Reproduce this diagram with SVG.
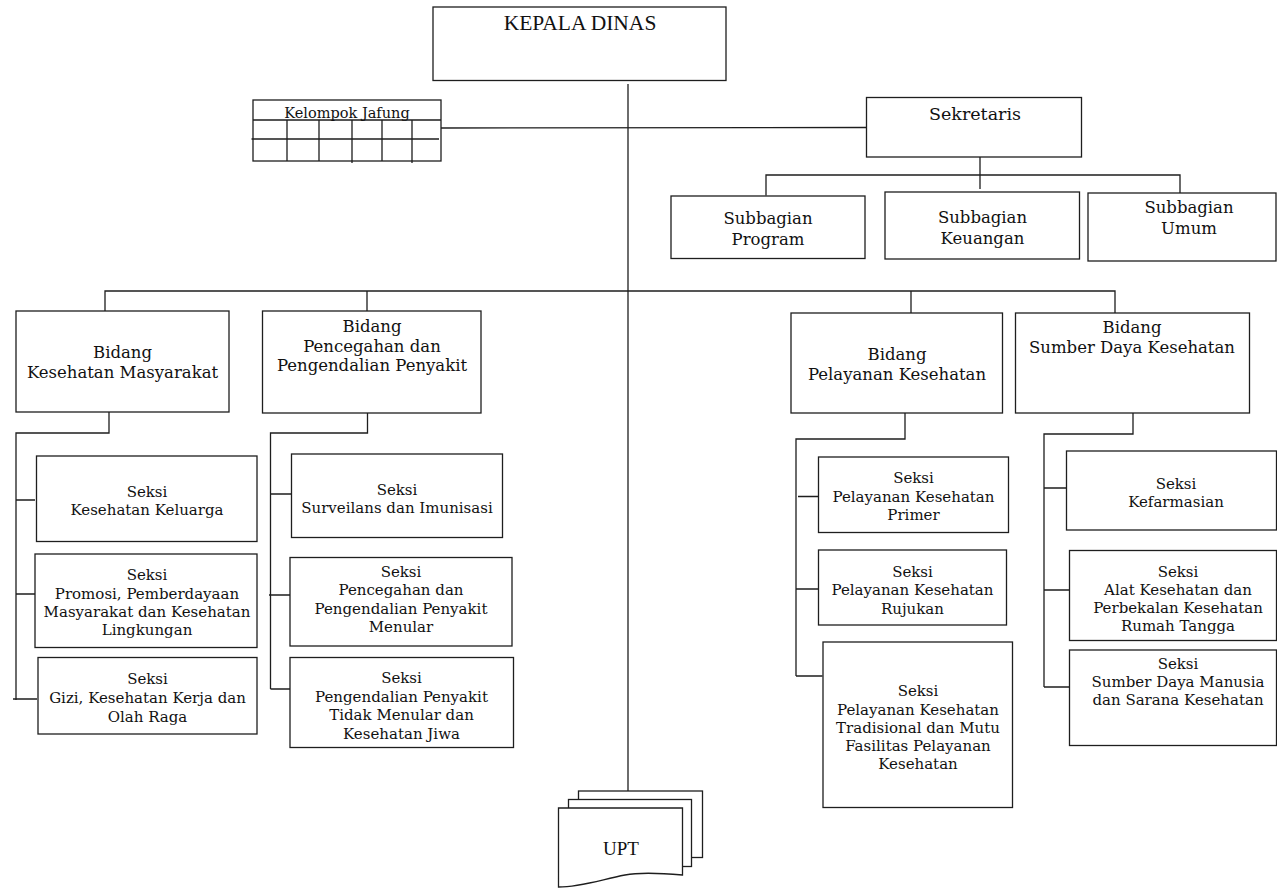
<svg xmlns="http://www.w3.org/2000/svg" width="1277" height="888" viewBox="0 0 1277 888">
<style>
.box{fill:#fff;stroke:#1e1e1e;stroke-width:1.3}
.ln{fill:none;stroke:#1e1e1e;stroke-width:1.3}
.t{font-family:"DejaVu Serif",serif;font-size:15px;text-anchor:middle;fill:#111}
.b{font-size:16.5px}
.s{font-size:16.5px}
.tr{font-family:"Liberation Serif","Times New Roman",serif;text-anchor:middle;fill:#111}
</style>
<rect width="1277" height="888" fill="#fff"/>
<g id="connectors">
<path class="ln" d="M628,84 V791"/>
<path class="ln" d="M441,128 L866,127.5"/>
<path class="ln" d="M980,157 V189 M766,195.5 V175 H1180 V193"/>
<path class="ln" d="M105,311 V291 H1115 V313 M367,291 V311 M911,291 V313"/>
<path class="ln" d="M109,412 V433 H16 V700 M16,500 H35 M16,594 H36 M13,699 H37"/>
<path class="ln" d="M367.5,413 V433 H270.5 V689 M270.5,494 H291 M269,595 H290 M270.5,689 H290"/>
<path class="ln" d="M905,413 V439 H796 V676 M798,496.5 H818 M796,589 H818 M796,676 H822.5"/>
<path class="ln" d="M1133,413 V434 H1044 V687 M1044,488 H1066 M1044,590 H1069 M1044,687 H1069"/>
</g>
<g id="kepala-dinas">
<rect class="box" x="433" y="7" width="293" height="73.5"/>
<text class="tr" x="580" y="30" style="font-size:21.5px">KEPALA DINAS</text>
</g>
<g id="kelompok-jafung">
<rect class="box" x="253" y="100" width="188" height="61"/>
<path class="ln" d="M253,120 H441 M251.5,139 H439 M287,120 V161 M319,120 V161 M352,120 V163 M382,120 V161 M412,120 V163"/>
<text class="t" x="347" y="117.5" style="font-size:14.5px">Kelompok Jafung</text>
</g>
<g id="sekretaris">
<rect class="box" x="866.5" y="97.5" width="215" height="59.5"/>
<text class="t" x="975" y="119.5" style="font-size:17.5px">Sekretaris</text>
</g>
<g id="subbagian-program">
<rect class="box" x="671" y="196" width="194" height="62.5"/>
<text class="t s" x="768" y="223.5">Subbagian</text>
<text class="t s" x="768" y="244.5">Program</text>
</g>
<g id="subbagian-keuangan">
<rect class="box" x="885" y="192" width="194.5" height="67"/>
<text class="t s" x="982.5" y="223">Subbagian</text>
<text class="t s" x="982.5" y="243.5">Keuangan</text>
</g>
<g id="subbagian-umum">
<rect class="box" x="1088" y="193" width="188" height="68"/>
<text class="t s" x="1189" y="213">Subbagian</text>
<text class="t s" x="1189" y="233.5">Umum</text>
</g>
<g id="bidang-kesmas">
<rect class="box" x="16" y="311" width="213" height="101"/>
<text class="t b" x="122.5" y="358">Bidang</text>
<text class="t b" x="122.5" y="378">Kesehatan Masyarakat</text>
</g>
<g id="bidang-p2p">
<rect class="box" x="262.5" y="311" width="218.5" height="102"/>
<text class="t b" x="372" y="332">Bidang</text>
<text class="t b" x="372" y="351.5">Pencegahan dan</text>
<text class="t b" x="372" y="371">Pengendalian Penyakit</text>
</g>
<g id="bidang-yankes">
<rect class="box" x="791" y="313" width="211.5" height="100"/>
<text class="t b" x="897" y="360">Bidang</text>
<text class="t b" x="897" y="380">Pelayanan Kesehatan</text>
</g>
<g id="bidang-sdk">
<rect class="box" x="1015.5" y="313" width="234" height="100"/>
<text class="t b" x="1132" y="332.5">Bidang</text>
<text class="t b" x="1132" y="352.5">Sumber Daya Kesehatan</text>
</g>
<g id="seksi-kesga">
<rect class="box" x="36.5" y="456" width="220.5" height="85.5"/>
<text class="t" x="147" y="497">Seksi</text>
<text class="t" x="147" y="515">Kesehatan Keluarga</text>
</g>
<g id="seksi-promkes">
<rect class="box" x="35" y="554" width="222" height="93.5"/>
<text class="t" x="147" y="580">Seksi</text>
<text class="t" x="147" y="598.5">Promosi, Pemberdayaan</text>
<text class="t" x="147" y="617">Masyarakat dan Kesehatan</text>
<text class="t" x="147" y="635">Lingkungan</text>
</g>
<g id="seksi-gizi">
<rect class="box" x="38" y="657.5" width="219" height="76.5"/>
<text class="t" x="147.5" y="684">Seksi</text>
<text class="t" x="147.5" y="703">Gizi, Kesehatan Kerja dan</text>
<text class="t" x="147.5" y="721.5">Olah Raga</text>
</g>
<g id="seksi-surveilans">
<rect class="box" x="291.5" y="454" width="211" height="83.5"/>
<text class="t" x="397" y="495">Seksi</text>
<text class="t" x="397" y="513">Surveilans dan Imunisasi</text>
</g>
<g id="seksi-p2pm">
<rect class="box" x="290" y="557.5" width="222" height="88.5"/>
<text class="t" x="401" y="577">Seksi</text>
<text class="t" x="401" y="595">Pencegahan dan</text>
<text class="t" x="401" y="613.5">Pengendalian Penyakit</text>
<text class="t" x="401" y="632">Menular</text>
</g>
<g id="seksi-p2ptm">
<rect class="box" x="290" y="657.5" width="223.5" height="90"/>
<text class="t" x="401.5" y="683">Seksi</text>
<text class="t" x="401.5" y="701.5">Pengendalian Penyakit</text>
<text class="t" x="401.5" y="720">Tidak Menular dan</text>
<text class="t" x="401.5" y="738.5">Kesehatan Jiwa</text>
</g>
<g id="seksi-primer">
<rect class="box" x="818.5" y="457" width="190" height="75.5"/>
<text class="t" x="913.5" y="483">Seksi</text>
<text class="t" x="913.5" y="501.5">Pelayanan Kesehatan</text>
<text class="t" x="913.5" y="520">Primer</text>
</g>
<g id="seksi-rujukan">
<rect class="box" x="818.5" y="550" width="188" height="75"/>
<text class="t" x="912.5" y="577">Seksi</text>
<text class="t" x="912.5" y="595">Pelayanan Kesehatan</text>
<text class="t" x="912.5" y="613.5">Rujukan</text>
</g>
<g id="seksi-tradisional">
<rect class="box" x="823" y="642" width="189.5" height="165.5"/>
<text class="t" x="918" y="696">Seksi</text>
<text class="t" x="918" y="714.5">Pelayanan Kesehatan</text>
<text class="t" x="918" y="732.5">Tradisional dan Mutu</text>
<text class="t" x="918" y="751">Fasilitas Pelayanan</text>
<text class="t" x="918" y="769">Kesehatan</text>
</g>
<g id="seksi-kefarmasian">
<rect class="box" x="1066.5" y="451" width="210" height="79"/>
<text class="t" x="1176" y="488.5">Seksi</text>
<text class="t" x="1176" y="507">Kefarmasian</text>
</g>
<g id="seksi-alkes">
<rect class="box" x="1069.5" y="550.5" width="207" height="90"/>
<text class="t" x="1178" y="576.5">Seksi</text>
<text class="t" x="1178" y="594.5">Alat Kesehatan dan</text>
<text class="t" x="1178" y="612.5">Perbekalan Kesehatan</text>
<text class="t" x="1178" y="631">Rumah Tangga</text>
</g>
<g id="seksi-sdm">
<rect class="box" x="1069.5" y="650" width="207" height="95.5"/>
<text class="t" x="1178" y="668.5">Seksi</text>
<text class="t" x="1178" y="687">Sumber Daya Manusia</text>
<text class="t" x="1178" y="705">dan Sarana Kesehatan</text>
</g>
<g id="upt">
<rect class="box" x="578.5" y="791" width="124" height="66.5"/>
<rect class="box" x="568.5" y="799.5" width="123" height="67"/>
<path class="box" d="M558.5,808 H682.5 V875 C660,873 640,872 625,875 C600,880 580,887 558.5,887 Z"/>
<text class="tr" x="621" y="855" style="font-size:19px">UPT</text>
</g>
</svg>
